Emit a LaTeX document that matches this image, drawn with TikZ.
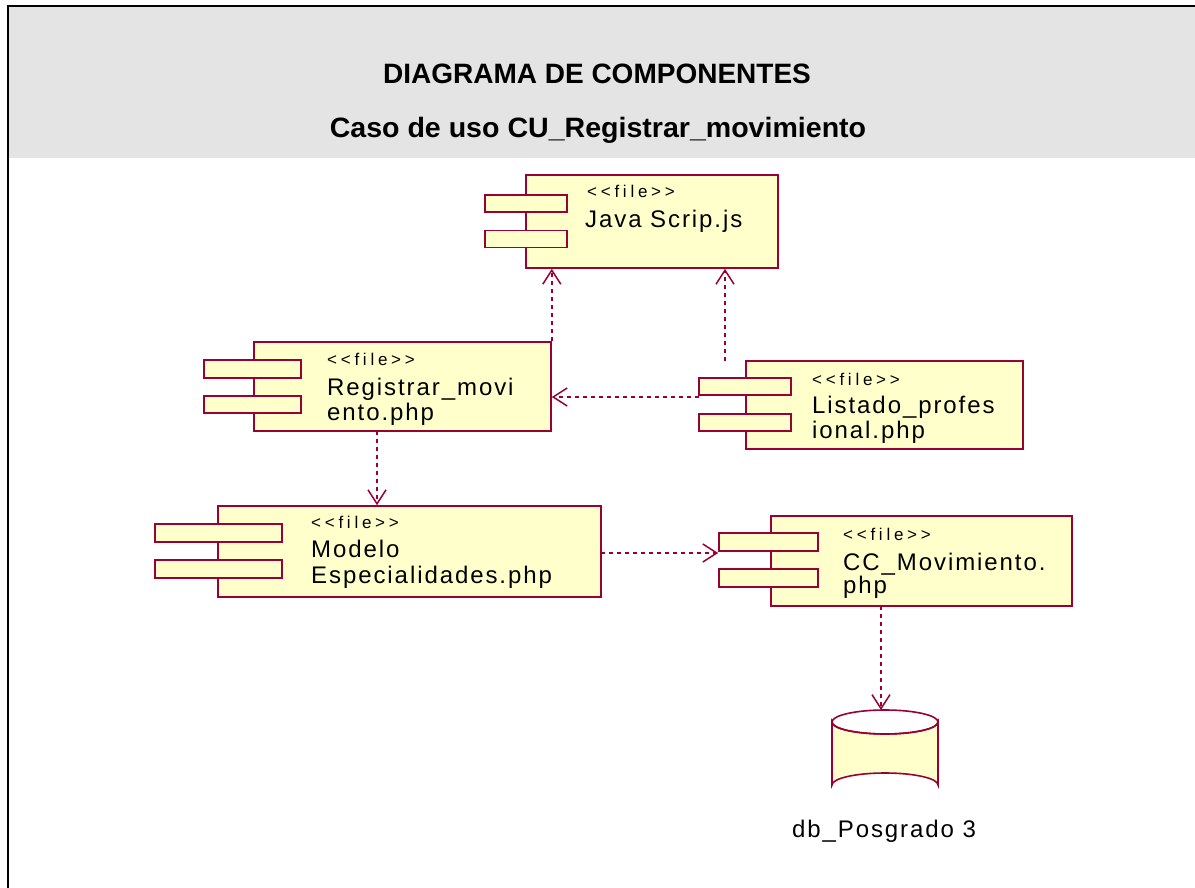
\documentclass[tikz,border=0pt]{standalone}
\usepackage{fontspec}
\setmainfont{Liberation Sans}
\newfontfamily\compfont[LetterSpace=8]{Liberation Sans}
\newfontfamily\stereofont[LetterSpace=22]{Liberation Sans}
\usetikzlibrary{arrows.meta}
\definecolor{rosered}{RGB}{153,0,51}
\definecolor{roseyellow}{RGB}{255,255,204}
\definecolor{headgray}{RGB}{228,228,228}
\begin{document}
\begin{tikzpicture}[x=1pt,y=-1pt,
  box/.style={draw=rosered, fill=roseyellow, line width=1.6pt, inner sep=0pt},
  stereo/.style={anchor=base west, inner sep=0pt, font=\stereofont\fontsize{17}{19}\selectfont},
  cname/.style={anchor=base west, inner sep=0pt, font=\compfont\fontsize{24}{27}\selectfont},
  title/.style={anchor=base, inner sep=0pt, font=\bfseries\fontsize{28}{31}\selectfont},
  dep/.style={draw=rosered, line width=1.5pt, dash pattern=on 4pt off 4pt,
    -{Straight Barb[length=14pt,width=18pt,line width=1.5pt]}}]
\useasboundingbox (0,0) rectangle (1195,888);
\fill[white] (0,0) rectangle (1195,888);
% header
\fill[headgray] (8,6) rectangle (1195,158);
\draw[black, line width=2.2pt] (8,888) -- (8,6) -- (1195,6);
\node[title] (t1) at (597,84) {DIAGRAMA DE COMPONENTES};
\node[title] (t2) at (598,138) {\scalebox{1.02}[1]{Caso de uso CU\_Registrar\_movimiento}};

% Java Scrip.js
\node[box, minimum width=252pt, minimum height=93pt] (java) at (652,221.5) {};
\node[box, minimum width=82pt, minimum height=17pt] (javaA) at (526,203.5) {};
\node[box, minimum width=82pt, minimum height=17pt] (javaB) at (526,239) {};
\node[stereo] (javaS) at (587,198) {\textless\textless file\textgreater\textgreater};
\node[cname] (javaN) at (585,228) {Java Scrip.js};

% Registrar
\node[box, minimum width=297pt, minimum height=89pt] (reg) at (402.5,386.5) {};
\node[box, minimum width=97pt, minimum height=18pt] (regA) at (252.5,369) {};
\node[box, minimum width=97pt, minimum height=17pt] (regB) at (252.5,404.5) {};
\node[stereo] (regS) at (327,365) {\textless\textless file\textgreater\textgreater};
\node[cname] (regN1) at (327,395) {Registrar\_movi};
\node[cname] (regN2) at (327,420) {ento.php};

% Listado
\node[box, minimum width=277pt, minimum height=88pt] (lis) at (884.5,405) {};
\node[box, minimum width=92pt, minimum height=17pt] (lisA) at (745,386.5) {};
\node[box, minimum width=92pt, minimum height=17pt] (lisB) at (745,422.5) {};
\node[stereo] (lisS) at (812,385) {\textless\textless file\textgreater\textgreater};
\node[cname] (lisN1) at (812,413) {Listado\_profes};
\node[cname] (lisN2) at (812,438) {ional.php};

% Modelo
\node[box, minimum width=383pt, minimum height=91pt] (mod) at (409.5,551.5) {};
\node[box, minimum width=127pt, minimum height=18pt] (modA) at (218.5,533) {};
\node[box, minimum width=127pt, minimum height=18pt] (modB) at (218.5,569) {};
\node[stereo] (modS) at (311,528) {\textless\textless file\textgreater\textgreater};
\node[cname] (modN1) at (311,557) {Modelo};
\node[cname] (modN2) at (311,583) {Especialidades.php};

% CC_Movimiento
\node[box, minimum width=301pt, minimum height=90pt] (cc) at (921.5,561) {};
\node[box, minimum width=99pt, minimum height=18pt] (ccA) at (768.5,542) {};
\node[box, minimum width=99pt, minimum height=18pt] (ccB) at (768.5,578) {};
\node[stereo] (ccS) at (843,540) {\textless\textless file\textgreater\textgreater};
\node[cname] (ccN1) at (843,570) {CC\_Movimiento.};
\node[cname] (ccN2) at (843,593) {php};

% database
\path[box] (832,722) -- (832,785)
  arc[start angle=180, end angle=360, x radius=53, y radius=12]
  -- (938,722)
  arc[start angle=0, end angle=180, x radius=53, y radius=12] -- cycle;
\draw[rosered, line width=1.6pt] (885,722) ellipse [x radius=53, y radius=12];
\coordinate (dbtop) at (881,710);
\node[anchor=base, inner sep=0pt, font=\compfont\fontsize{24}{27}\selectfont] (dbN) at (884,837) {db\_Posgrado 3};

% connectors
\coordinate (lisTop) at (725,361);
\coordinate (lisL) at (699,397);
\coordinate (regBot) at (377,431);
\coordinate (modR) at (601,553);
\coordinate (ccBot) at (881,606);
\draw[dep] (reg.north east) -- (reg.north east |- java.south);
\draw[dep] (lisTop) -- (lisTop |- java.south);
\draw[dep] (lisL) -- (lisL -| reg.east);
\draw[dep] (regBot) -- (regBot |- mod.north);
\draw[dep] (modR) -- (modR -| ccA.west);
\draw[dep] (ccBot) -- (dbtop);
\end{tikzpicture}
\end{document}
